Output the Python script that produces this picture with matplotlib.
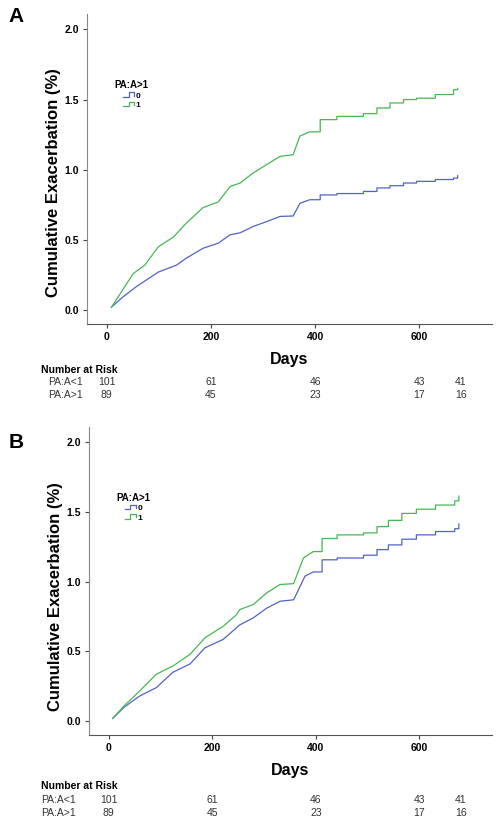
import matplotlib
matplotlib.use("Agg")
import matplotlib.pyplot as plt
from matplotlib.legend_handler import HandlerBase
from matplotlib.lines import Line2D
from matplotlib.transforms import blended_transform_factory

plt.rcParams["font.family"] = ["Liberation Sans", "DejaVu Sans"]

# panel A curves (days, cumulative exacerbation)
a_blue_days = [9, 30, 57, 99, 134, 153, 185, 214, 237, 256, 281, 307, 333, 358, 371,
               390, 410, 442, 493, 519, 544, 570, 595, 631, 666, 674]
a_blue_vals = [0.02, 0.09, 0.167, 0.27, 0.32, 0.37, 0.44, 0.476, 0.536, 0.55, 0.595, 0.63,
               0.667, 0.67, 0.76, 0.786, 0.82, 0.83, 0.845, 0.87, 0.886, 0.905, 0.917,
               0.93, 0.94, 0.957]
a_green_days = [9, 30, 51, 73, 99, 128, 153, 185, 214, 237, 256, 281, 307, 333, 358, 371,
                390, 410, 442, 493, 519, 544, 570, 595, 631, 666, 674]
a_green_vals = [0.02, 0.14, 0.26, 0.32, 0.45, 0.52, 0.62, 0.73, 0.77, 0.88, 0.905, 0.976,
                1.036, 1.095, 1.107, 1.24, 1.27, 1.357, 1.38, 1.40, 1.44, 1.476, 1.50,
                1.51, 1.536, 1.57, 1.58]

# panel B curves
b_blue_days = [8, 30, 60, 92, 124, 157, 186, 221, 247, 253, 279, 305, 331, 357, 379, 395,
               412, 441, 492, 518, 540, 566, 594, 631, 668, 676]
b_blue_vals = [0.02, 0.10, 0.18, 0.24, 0.35, 0.41, 0.526, 0.586, 0.67, 0.69, 0.74, 0.81,
               0.86, 0.87, 1.04, 1.07, 1.157, 1.17, 1.19, 1.23, 1.264, 1.305, 1.336,
               1.36, 1.38, 1.414]
b_green_days = [8, 30, 60, 92, 124, 157, 186, 221, 247, 253, 279, 305, 331, 357, 376, 395,
                412, 441, 492, 518, 540, 566, 594, 631, 668, 676]
b_green_vals = [0.02, 0.11, 0.216, 0.336, 0.395, 0.479, 0.598, 0.68, 0.764, 0.8, 0.836,
                0.92, 0.98, 0.986, 1.17, 1.216, 1.31, 1.336, 1.35, 1.395, 1.44, 1.49,
                1.52, 1.55, 1.58, 1.614]

# number at risk
risk_days = [0, 200, 400, 600, 680]
risk_low = [101, 61, 46, 43, 41]
risk_high = [89, 45, 23, 17, 16]
risk_labels = ["PA:A<1", "PA:A>1"]

BLUE = "#5063c4"
GREEN = "#45b853"


class StepHandler(HandlerBase):
    def create_artists(self, legend, orig_handle, xdescent, ydescent,
                       width, height, fontsize, trans):
        x0 = -xdescent
        xs = [x0, x0 + width * 0.5, x0 + width * 0.5, x0 + width, x0 + width]
        ys = [height * 0.15, height * 0.15, height * 0.85, height * 0.85, height * 0.35]
        line = Line2D(xs, ys, color=orig_handle.get_color(), lw=0.9)
        line.set_transform(trans)
        return [line]


def km_path(days, vals, step_from=400):
    # dense early events read as a jagged line, later events as distinct steps
    xs, ys = [days[0]], [vals[0]]
    for d, v in zip(days[1:], vals[1:]):
        if d >= step_from:
            xs.append(d)
            ys.append(ys[-1])
        xs.append(d)
        ys.append(v)
    return xs, ys


def draw_panel(fig, rect, letter, letter_y, blue, green, label_y, risk_y, row_x):
    ax = fig.add_axes(rect)
    lb, = ax.plot(*km_path(*blue), color=BLUE, lw=0.9, label="0")
    lg, = ax.plot(*km_path(*green), color=GREEN, lw=0.9, label="1")

    ax.set_xlim(-38, 740)
    ax.set_ylim(-0.1, 2.11)
    ax.set_xticks([0, 200, 400, 600])
    ax.set_yticks([0.0, 0.5, 1.0, 1.5, 2.0])
    ax.set_yticklabels(["0.0", "0.5", "1.0", "1.5", "2.0"])
    for lab in ax.get_xticklabels() + ax.get_yticklabels():
        lab.set_fontweight("bold")
    ax.tick_params(labelsize=7.5, length=3, width=0.8, color="#444", pad=3)
    ax.spines[["top", "right"]].set_visible(False)
    ax.spines["left"].set_color("#888")
    ax.spines["bottom"].set_color("#555")

    ax.set_ylabel("Cumulative Exacerbation (%)", fontsize=12, fontweight="bold")
    ax.yaxis.set_label_coords(-0.065, label_y)
    ax.set_xlabel("Days", fontsize=11.5, fontweight="bold")
    ax.xaxis.set_label_coords(0.5, -0.09)

    leg = ax.legend(handles=[lb, lg], title="PA:A>1", loc="upper left",
                    bbox_to_anchor=(0.05, 0.81), frameon=False, fontsize=6,
                    title_fontsize=7, handlelength=1.3, handleheight=0.8,
                    handletextpad=0.2, labelspacing=0.15,
                    handler_map={Line2D: StepHandler()})
    leg.get_title().set_fontweight("bold")
    for t in leg.get_texts():
        t.set_fontweight("bold")

    fig.text(0.032, letter_y, letter, fontsize=15, fontweight="bold",
             ha="center", va="center")

    trans = blended_transform_factory(ax.transData, fig.transFigure)
    fig.text(0.082, risk_y[0], "Number at Risk", fontsize=7.5, fontweight="bold",
             va="center")
    for row, counts in enumerate([risk_low, risk_high]):
        fig.text(row_x, risk_y[row + 1], risk_labels[row], fontsize=7.5, color="#333",
                 va="center")
        for d, n in zip(risk_days, counts):
            ax.text(d, risk_y[row + 1], str(n), transform=trans, fontsize=7.5,
                    color="#333", ha="center", va="center")
    return ax


fig = plt.figure(figsize=(4.98, 8.22), dpi=100)

draw_panel(fig, [87 / 498, 1 - 324 / 822, 405 / 498, 310 / 822], "A", 1 - 16 / 822,
           (a_blue_days, a_blue_vals), (a_green_days, a_green_vals), 0.455,
           [1 - 370 / 822, 1 - 382 / 822, 1 - 395 / 822], 48 / 498)
draw_panel(fig, [89 / 498, 1 - 735 / 822, 403 / 498, 308 / 822], "B", 1 - 442 / 822,
           (b_blue_days, b_blue_vals), (b_green_days, b_green_vals), 0.451,
           [1 - 786 / 822, 1 - 800 / 822, 1 - 813 / 822], 41 / 498)

fig.savefig("out.png", dpi=100)
